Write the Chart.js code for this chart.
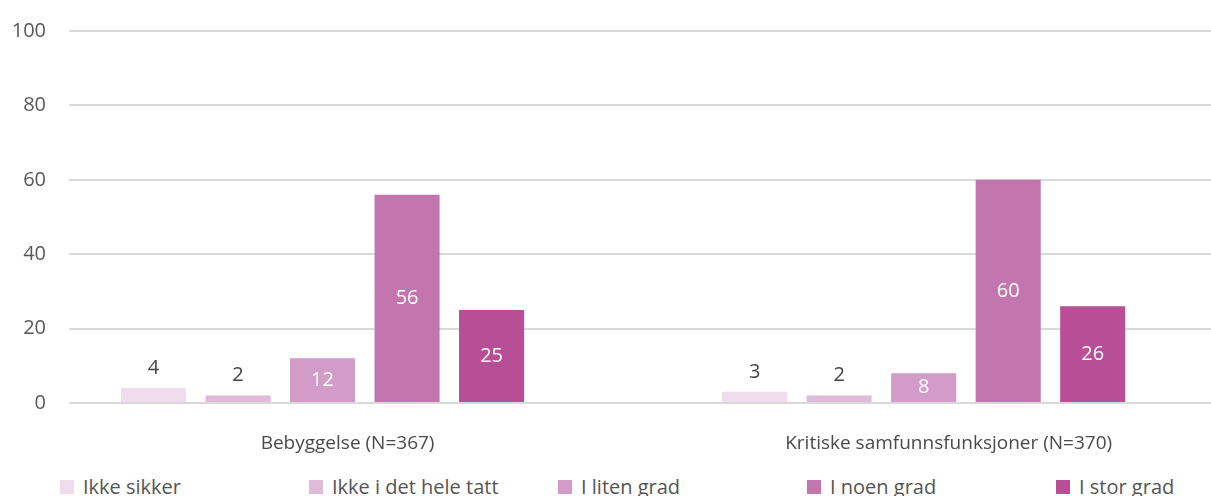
<!DOCTYPE html>
<html>
<head>
<meta charset="utf-8">
<script src="https://cdn.jsdelivr.net/npm/chart.js@4"></script>
<style>
    body { margin: 0; background: #fff; font-family: "Open Sans", sans-serif; }
    #wrap { position: relative; width: 1211px; height: 496px; }
    #legend { position: absolute; left: 60px; top: 473px; display: flex; }
    .item { width: 249px; display: flex; align-items: center; font-size: 20px; color: #555; }
    .box { width: 14px; height: 14px; margin-right: 9px; flex: none; }
</style>
</head>
<body>
<div id="wrap">
    <canvas id="chart" width="1211" height="460"></canvas>
    <div id="legend"></div>
</div>
<script>
// data
const categories = ['Bebyggelse (N=367)', 'Kritiske samfunnsfunksjoner (N=370)'];
const seriesNames = ['Ikke sikker', 'Ikke i det hele tatt', 'I liten grad', 'I noen grad', 'I stor grad'];
const ikkeSikker = [4, 3];
const ikkeIDetHeleTatt = [2, 2];
const iLitenGrad = [12, 8];
const iNoenGrad = [56, 60];
const iStorGrad = [25, 26];
const yTicks = [0, 20, 40, 60, 80, 100];

const colors = ['#efdcec', '#e0bbd9', '#d39bc7', '#c376ae', '#b84e96'];
const labelColors = ['#444', '#444', '#fff', '#fff', '#fff'];
const seriesValues = [ikkeSikker, ikkeIDetHeleTatt, iLitenGrad, iNoenGrad, iStorGrad];

const datasets = seriesValues.map((values, i) => ({
    label: seriesNames[i],
    data: values.map((v, c) => ({ x: c, y: v })),
    backgroundColor: colors[i],
    categoryPercentage: 0.703,
    barPercentage: 0.77
}));

// value labels: small bars get the number above, others inside
const valueLabels = {
    id: 'valueLabels',
    afterDatasetsDraw(chart) {
        const ctx = chart.ctx;
        ctx.save();
        ctx.font = '20px "Open Sans", sans-serif';
        ctx.textAlign = 'center';
        ctx.textBaseline = 'middle';
        chart.data.datasets.forEach((ds, i) => {
            const meta = chart.getDatasetMeta(i);
            meta.data.forEach((bar, j) => {
                const v = ds.data[j].y;
                ctx.fillStyle = labelColors[i];
                if (i < 2) {
                    ctx.fillText(v, bar.x, bar.y - 20);
                } else {
                    ctx.fillText(v, bar.x, (bar.y + bar.base) / 2);
                }
            });
        });
        ctx.restore();
    }
};

new Chart(document.getElementById('chart'), {
    type: 'bar',
    data: { datasets: datasets },
    options: {
        responsive: false,
        animation: false,
        layout: { padding: 0 },
        plugins: {
            legend: { display: false },
            tooltip: { enabled: false }
        },
        scales: {
            x: {
                type: 'linear',
                offset: false,
                min: -0.4218,
                max: 1.478,
                grid: { display: false },
                border: { display: false },
                afterFit: (scale) => { scale.height = 57; },
                afterBuildTicks: (scale) => {
                    scale.ticks = categories.map((c, i) => ({ value: i }));
                },
                ticks: {
                    stepSize: 1,
                    includeBounds: false,
                    autoSkip: false,
                    maxRotation: 0,
                    labelOffset: 25,
                    padding: 21,
                    color: '#4a4a4a',
                    font: { family: '"Open Sans", sans-serif', size: 19 },
                    callback: (v) => categories[v]
                }
            },
            y: {
                min: 0,
                max: 100,
                afterFit: (scale) => {
                    scale.width = 69;
                    scale.paddingTop = 31;
                },
                afterBuildTicks: (scale) => {
                    scale.ticks = yTicks.map(v => ({ value: v }));
                },
                grid: { color: '#d9d9d9', lineWidth: 2, drawTicks: false },
                border: { display: false },
                ticks: {
                    padding: 23,
                    color: '#595959',
                    font: { family: '"Open Sans", sans-serif', size: 20 }
                }
            }
        }
    },
    plugins: [valueLabels]
});

// legend
const legend = document.getElementById('legend');
seriesNames.forEach((name, i) => {
    const item = document.createElement('div');
    item.className = 'item';
    item.innerHTML = `<span class="box" style="background:${colors[i]}"></span>${name}`;
    legend.appendChild(item);
});
</script>
</body>
</html>
